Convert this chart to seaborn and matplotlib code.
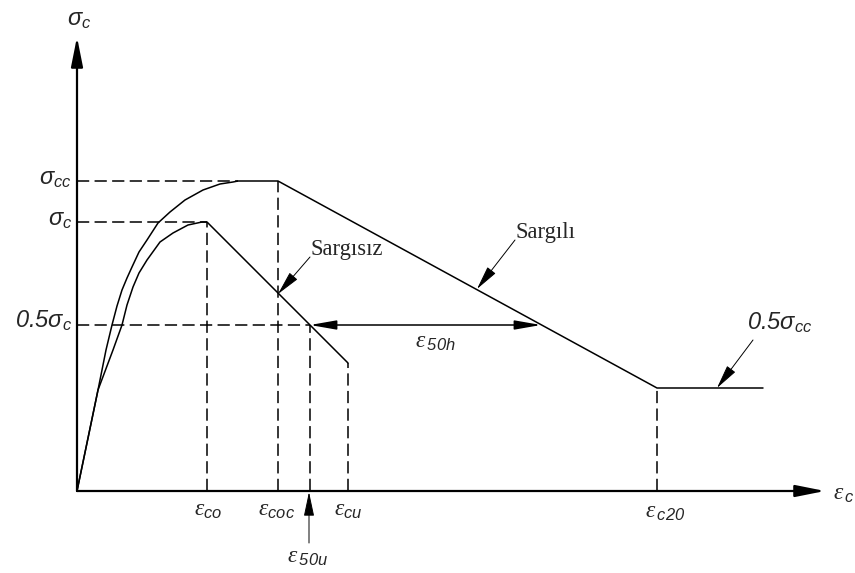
import matplotlib
matplotlib.use("Agg")
import matplotlib.pyplot as plt
import pandas as pd
import seaborn as sns

# Confined (Sargılı) concrete: ascending branch, plateau, linear softening, residual
confined_strain = [0, 21, 29, 35, 40, 45, 50, 55, 62, 70, 81, 93, 108, 126, 143, 156, 161, 201, 580, 686]
confined_stress = [0, 101, 141, 166, 185, 201, 213, 224, 239, 251, 268, 279, 291, 301, 307, 309, 310, 310, 103, 103]

# Unconfined (Sargısız) concrete: ascending branch, peak, linear softening to ultimate
unconfined_strain = [0, 21, 36, 45, 50, 56, 62, 70, 83, 96, 111, 125, 130, 271]
unconfined_stress = [0, 101, 141, 166, 186, 204, 218, 231, 249, 258, 266, 269, 269, 128]

# Dashed guide lines: horizontal stress levels (level, end strain)
guide_levels = [310, 269, 166]
guide_level_ends = [161, 130, 233]
# Dashed guide lines: vertical strains (strain, top stress)
guide_strains = [130, 201, 233, 271, 580]
guide_strain_tops = [269, 310, 166, 128, 103]

# ε50h span on the 0.5σc level
eps50h_span = [233, 464]
eps50h_level = 166

stress_labels = [r"$\sigma_{cc}$", r"$\sigma_{c}$", r"$\mathsf{0.5}\sigma_{c}$"]
stress_label_pos = [312, 271, 170]

EPS = r"\mathcal{\varepsilon}"
strain_labels = [rf"${EPS}_{{\mathsf{{co}}}}$", rf"${EPS}_{{\mathsf{{coc}}}}$",
                 rf"${EPS}_{{\mathsf{{cu}}}}$"]
strain_label_pos = [131, 200, 271]

sns.set_theme(style="white")
plt.rcParams["font.family"] = ["Liberation Sans", "DejaVu Sans"]
plt.rcParams["mathtext.fontset"] = "custom"
plt.rcParams["mathtext.it"] = "Liberation Sans:italic"
plt.rcParams["mathtext.rm"] = "Liberation Sans"
plt.rcParams["mathtext.sf"] = "Liberation Sans:italic"
plt.rcParams["mathtext.cal"] = "Liberation Serif:italic"

fig = plt.figure(figsize=(8.55, 5.73), dpi=100)
ax = fig.add_axes([0, 0, 1, 1])
ax.set_xlim(-77, 778)
ax.set_ylim(-82, 491)
ax.axis("off")

black = "black"
dash = (8, 3.5)

# Stress-strain curves
conf = pd.DataFrame({"strain": confined_strain, "stress": confined_stress})
unconf = pd.DataFrame({"strain": unconfined_strain, "stress": unconfined_stress})
sns.lineplot(data=conf, x="strain", y="stress", sort=False, estimator=None,
             color=black, lw=1.1, ax=ax)
sns.lineplot(data=unconf, x="strain", y="stress", sort=False, estimator=None,
             color=black, lw=1.1, ax=ax)

# Dashed guides
for lvl, end in zip(guide_levels, guide_level_ends):
    ax.plot([0, end], [lvl, lvl], color=black, lw=1.1, dashes=dash)
for s, top in zip(guide_strains, guide_strain_tops):
    ax.plot([s, s], [0, top], color=black, lw=1.1, dashes=dash)

# Axes with arrow heads
axis_arrow = dict(arrowstyle="-|>,head_length=1.8,head_width=0.36",
                  mutation_scale=10, color=black, lw=1.6,
                  shrinkA=0, shrinkB=0)
ax.annotate("", xy=(748, 0), xytext=(0, 0), arrowprops=axis_arrow)
ax.annotate("", xy=(0, 454), xytext=(0, 0), arrowprops=axis_arrow)

# ε50h double arrow
ax.annotate("", xy=(eps50h_span[1], eps50h_level), xytext=(eps50h_span[0], eps50h_level),
            arrowprops=dict(arrowstyle="<|-|>,head_length=1.6,head_width=0.28",
                            mutation_scale=10, color=black, lw=1.1,
                            shrinkA=0, shrinkB=0))

# Pointer arrows
pointer = dict(arrowstyle="-|>,head_length=1.5,head_width=0.32",
               mutation_scale=10, color=black, lw=0.7,
               shrinkA=0, shrinkB=0)
ax.annotate("", xy=(232, -1), xytext=(232, -52), arrowprops=pointer)
ax.annotate("", xy=(201, 197), xytext=(233, 234), arrowprops=pointer)
ax.annotate("", xy=(400, 202), xytext=(438, 251), arrowprops=pointer)
ax.annotate("", xy=(640, 103), xytext=(676, 151), arrowprops=pointer)

# Axis titles
ax.text(-10, 471, r"$\sigma_{c}$", fontsize=17, ha="left", va="center")
ax.text(756, -3, rf"${EPS}_{{\,\mathsf{{c}}}}$", fontsize=17, ha="left", va="center")

# Stress level labels
for lab, y in zip(stress_labels, stress_label_pos):
    ax.text(-5, y, lab, fontsize=17, ha="right", va="center")
ax.text(670, 168, r"$\mathsf{0.5}\sigma_{cc}$", fontsize=17, ha="left", va="center")

# Strain labels
for lab, x in zip(strain_labels, strain_label_pos):
    ax.text(x, -8, lab, fontsize=17, ha="center", va="top")
ax.text(231, -55, rf"${EPS}_{{\,\mathsf{{50u}}}}$", fontsize=17, ha="center", va="top")
ax.text(568, -10, rf"${EPS}_{{\,\mathsf{{c20}}}}$", fontsize=17, ha="left", va="top")
ax.text(338, 160, rf"${EPS}_{{\,\mathsf{{50h}}}}$", fontsize=17, ha="left", va="top")

# Curve names
ax.text(233, 236, "Sargısız", fontsize=16.3, family=["Liberation Serif", "DejaVu Serif"],
        ha="left", va="baseline")
ax.text(438, 253, "Sargılı", fontsize=16.3, family=["Liberation Serif", "DejaVu Serif"],
        ha="left", va="baseline")

fig.savefig("out.png", dpi=100)
